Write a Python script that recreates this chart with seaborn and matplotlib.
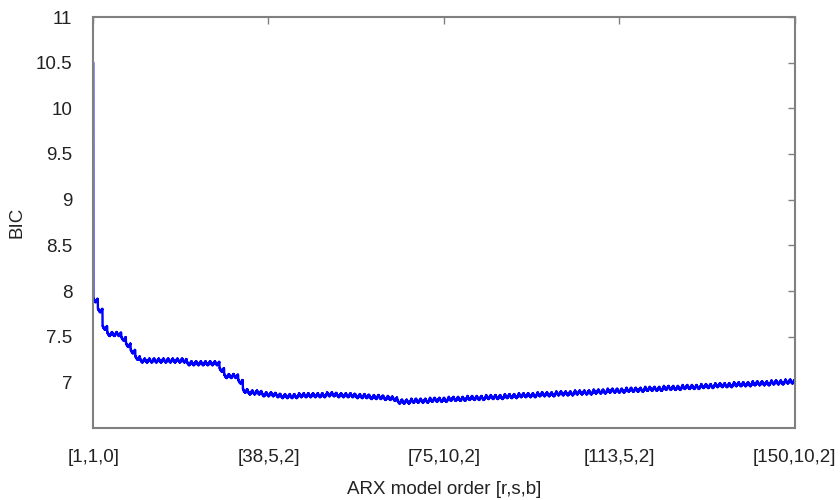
import numpy as np
import pandas as pd
import matplotlib
matplotlib.use("Agg")
import matplotlib.pyplot as plt
import seaborn as sns

# ------------------------------
# data
# ------------------------------
# BIC level for each r (1..150), every r holds 10 s-values x 3 b-values
r_levels = [
    7.90, 7.79, 7.60, 7.53, 7.53, 7.53, 7.48, 7.41, 7.34, 7.27,
    7.24, 7.24, 7.24, 7.24, 7.24, 7.24, 7.24, 7.24, 7.24, 7.24,
    7.21, 7.21, 7.21, 7.21, 7.21, 7.21, 7.21, 7.14, 7.07, 7.07,
    7.07, 7.01, 6.91, 6.89, 6.89, 6.89, 6.87, 6.87, 6.87, 6.86,
    6.85, 6.85, 6.85, 6.85, 6.86, 6.86, 6.86, 6.86, 6.86, 6.86,
    6.87, 6.87, 6.86, 6.86, 6.86, 6.86, 6.85, 6.85, 6.85, 6.84,
    6.84, 6.84, 6.83, 6.83, 6.82, 6.79, 6.79, 6.79, 6.80, 6.80,
    6.80, 6.80, 6.81, 6.81, 6.81, 6.81, 6.82, 6.82, 6.82, 6.82,
    6.83, 6.83, 6.83, 6.83, 6.84, 6.84, 6.84, 6.84, 6.85, 6.85,
    6.85, 6.86, 6.86, 6.86, 6.86, 6.87, 6.87, 6.87, 6.87, 6.88,
    6.88, 6.88, 6.88, 6.89, 6.89, 6.89, 6.89, 6.90, 6.90, 6.90,
    6.91, 6.91, 6.91, 6.91, 6.92, 6.92, 6.92, 6.92, 6.93, 6.93,
    6.93, 6.93, 6.94, 6.94, 6.94, 6.94, 6.95, 6.95, 6.95, 6.95,
    6.96, 6.96, 6.96, 6.97, 6.97, 6.97, 6.97, 6.98, 6.98, 6.98,
    6.98, 6.99, 6.99, 6.99, 6.99, 7.00, 7.00, 7.00, 7.01, 7.01,
]

# small saw-tooth inside one r (s = 1..10, b = 0..2)
tooth_offsets = [
    0.022, 0.012, 0.018, 0.010, 0.000, 0.006, 0.002, -0.008, -0.002, -0.006,
    -0.016, -0.010, -0.014, -0.022, -0.016, -0.018, -0.024, -0.018, -0.010, -0.018,
    -0.012, -0.002, -0.010, -0.004, 0.008, 0.000, 0.004, 0.016, 0.008, 0.012,
]

first_model_bic = 10.5  # model [1,1,0]

tick_orders = [(1, 1, 0), (38, 5, 2), (75, 10, 2), (113, 5, 2), (150, 10, 2)]
y_ticks = [7, 7.5, 8, 8.5, 9, 9.5, 10, 10.5, 11]

# ------------------------------
# build the table
# ------------------------------
n_sub = len(tooth_offsets)
bic = (np.array(r_levels)[:, None] + np.array(tooth_offsets)[None, :]).ravel()
bic[0] = first_model_bic
df = pd.DataFrame({"model": np.arange(len(bic)), "BIC": bic})

tick_pos = [(r - 1) * n_sub + (s - 1) * 3 + b for r, s, b in tick_orders]
tick_lab = ["[%d,%d,%d]" % t for t in tick_orders]

# ------------------------------
# plot
# ------------------------------
sns.set_style("white")
plt.rcParams["font.family"] = ["Liberation Sans", "DejaVu Sans"]

fig = plt.figure(figsize=(8.4, 5), dpi=100)
ax = fig.add_axes([0.111, 0.144, 0.835, 0.822])

sns.lineplot(data=df, x="model", y="BIC", color="#0000ff", linewidth=1.7,
             estimator=None, ax=ax)

ax.set_xlim(0, len(bic) - 1)
ax.set_ylim(6.5, 11)
ax.set_xticks(tick_pos)
ax.set_xticklabels(tick_lab)
ax.set_yticks(y_ticks)
ax.set_yticklabels(["%g" % v for v in y_ticks])

ax.tick_params(direction="in", length=5, width=1, color="#808080",
               top=True, right=True, labelsize=13.5, labelcolor="#222222",
               pad=15)
ax.tick_params(axis="y", pad=15)
for sp in ax.spines.values():
    sp.set_color("#808080")
    sp.set_linewidth(1.5)
    sp.set_visible(True)

ax.set_xlabel("ARX model order [r,s,b]", fontsize=13.5, color="#222222", labelpad=11)
ax.set_ylabel("BIC", fontsize=13.5, color="#222222")
ax.yaxis.set_label_coords(-0.097, 0.5)

fig.savefig("out.png", dpi=100)
